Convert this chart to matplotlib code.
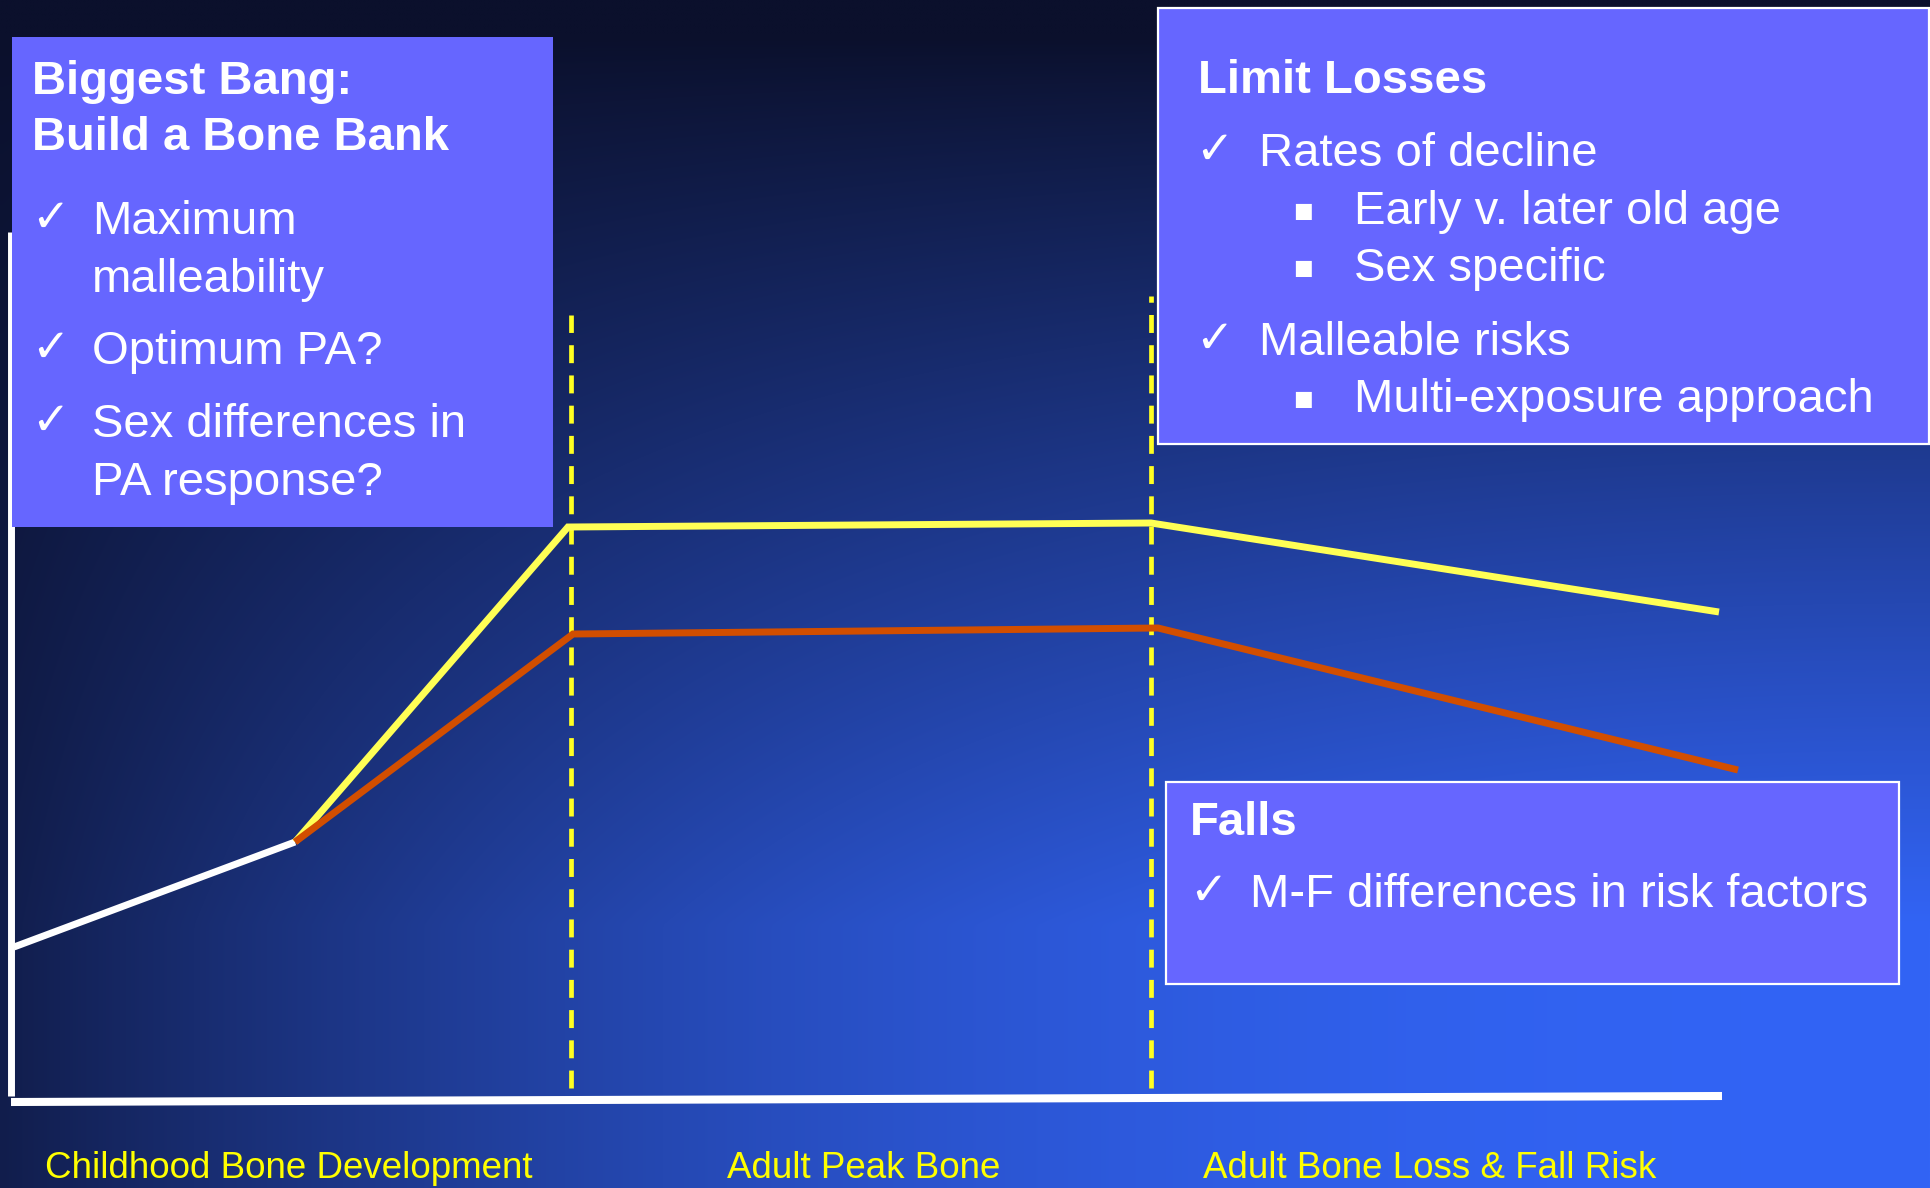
import numpy as np
import matplotlib
matplotlib.use("Agg")
import matplotlib.pyplot as plt
from matplotlib.patches import Rectangle

plt.rcParams["font.family"] = ["Liberation Sans", "DejaVu Sans"]

W, H = 1931, 1188

# life-course bone curve (x = age position, y = bone mass, slide units)
child_x = [14, 295]
child_y = [241, 346]
male_x = [295, 568, 1151, 1719]
male_y = [346, 661, 665, 576]
female_x = [295, 573, 1158, 1738]
female_y = [346, 554, 560, 418]

# stage boundaries
stage_x = [571, 1151]
stage_top = [873, 892]
stage_names = ["Childhood Bone Development", "Adult Peak Bone",
               "Adult Bone Loss & Fall Risk"]
stage_label_x = [45, 727, 1203]

left_title = ["Biggest Bang:", "Build a Bone Bank"]
left_items = ["Maximum\nmalleability", "Optimum PA?", "Sex differences in\nPA response?"]
right_title = "Limit Losses"
right_items = [("check", "Rates of decline"), ("bullet", "Early v. later old age"),
               ("bullet", "Sex specific"), ("check", "Malleable risks"),
               ("bullet", "Multi-exposure approach")]
falls_title = "Falls"
falls_items = ["M-F differences in risk factors"]

BOX = "#6666FF"
YEL = "#FFFF55"
ORG = "#D24E00"

fig = plt.figure(figsize=(W / 100, H / 100), dpi=100)
ax = fig.add_axes([0, 0, 1, 1])
ax.set_xlim(0, W)
ax.set_ylim(0, H)
ax.axis("off")

# background gradient (row 0 = top of slide)
u = np.linspace(0, 1, 400)[None, :]
v = np.linspace(0, 1, 300)[:, None]
g = np.clip((v - 0.03) / 0.75, 0, 1) ** 0.9
h = 0.16 + 0.84 * (1 - (1 - u) ** 2.2)
f = (g * h)[..., None]
dark = np.array([11, 16, 44]) / 255
bright = np.array([50, 100, 245]) / 255
bg = dark + (bright - dark) * f
ax.imshow(bg, extent=[0, W, 0, H], aspect="auto", zorder=0, origin="upper",
          interpolation="bilinear")

# axes lines
ax.plot([11, 11], [92, 956], color="white", lw=5, solid_capstyle="butt", zorder=3)
ax.plot([11, 1722], [86, 92], color="white", lw=5.8, solid_capstyle="butt", zorder=3)

# stage dividers
for sx, top in zip(stage_x, stage_top):
    ax.plot([sx, sx], [100, top], color="#FFFF22", lw=3.4,
            dashes=(3.8, 2.6), zorder=2)

ax.plot(child_x, child_y, color="white", lw=5, solid_capstyle="butt", zorder=4)
ax.plot(male_x, male_y, color=YEL, lw=5, solid_capstyle="butt",
        solid_joinstyle="miter", zorder=4)
ax.plot(female_x, female_y, color=ORG, lw=5, solid_capstyle="butt",
        solid_joinstyle="miter", zorder=4)

# text boxes
ax.add_patch(Rectangle((12, 661), 541, 490, facecolor=BOX, edgecolor="none", zorder=5))
ax.add_patch(Rectangle((1158, 744), 771, 436, facecolor=BOX, edgecolor="white",
                       lw=1.6, zorder=5))
ax.add_patch(Rectangle((1166, 204), 733, 202, facecolor=BOX, edgecolor="white",
                       lw=1.6, zorder=5))

txt = dict(color="white", va="baseline", ha="left", zorder=6)
BIG = 34
CHK = 33

# left box
ax.text(32, H - 94, left_title[0], fontsize=BIG, fontweight="bold", **txt)
ax.text(32, H - 150, left_title[1], fontsize=BIG, fontweight="bold", **txt)
left_base = [234, 364, 437]
for item, yb in zip(left_items, left_base):
    ax.text(31, H - yb + 2, "\u2713", fontsize=CHK, family="DejaVu Sans", **txt)
    for k, line in enumerate(item.split("\n")):
        ax.text(92, H - yb - k * 58, line, fontsize=BIG, **txt)

# right box
ax.text(1198, H - 93, right_title, fontsize=BIG, fontweight="bold", **txt)
right_base = [166, 224, 281, 355, 412]
for (kind, item), yb in zip(right_items, right_base):
    if kind == "check":
        ax.text(1195, H - yb + 2, "\u2713", fontsize=CHK, family="DejaVu Sans", **txt)
        ax.text(1259, H - yb, item, fontsize=BIG, **txt)
    else:
        ax.text(1293, H - yb + 7, "\u25A0", fontsize=15, family="DejaVu Sans", **txt)
        ax.text(1354, H - yb, item, fontsize=BIG, **txt)

# falls box
ax.text(1190, H - 835, falls_title, fontsize=BIG, fontweight="bold", **txt)
ax.text(1189, H - 907 + 2, "\u2713", fontsize=CHK, family="DejaVu Sans", **txt)
ax.text(1250, H - 907, falls_items[0], fontsize=BIG, **txt)

# stage labels
for name, lx in zip(stage_names, stage_label_x):
    ax.text(lx, H - 1178, name, fontsize=26.5, color="#FFFF00", va="baseline",
            ha="left", zorder=6)

fig.savefig("out.png", dpi=100)
